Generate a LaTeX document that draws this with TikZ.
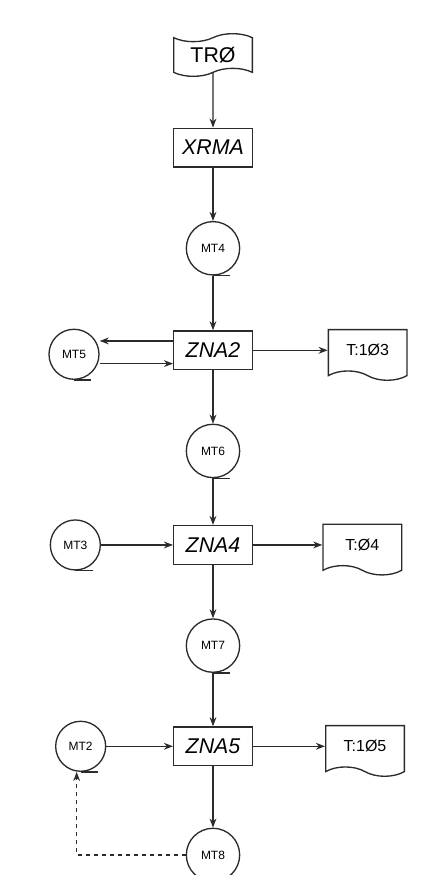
\documentclass[tikz,border=0pt]{standalone}
\usepackage{fontspec}
\setmainfont{Liberation Sans}
\usepackage{tikz}
\usetikzlibrary{arrows.meta,positioning,shapes.symbols}
\definecolor{inkGray}{HTML}{2B2B2B}
\tikzset{
  flow/.style={-{Stealth[length=2.4mm,width=1.8mm]}, line width=1pt, draw=inkGray},
  feedback/.style={flow, dashed},
  program box/.style={draw=inkGray, line width=1pt, minimum width=59pt,
    minimum height=29pt, inner sep=2pt,
    font=\fontsize{16}{18}\selectfont\itshape},
  reel/.style={circle, draw=inkGray, line width=1pt, minimum size=40pt,
    inner sep=0pt, font=\fontsize{9}{10}\selectfont},
  side reel/.style={reel, minimum size=37.5pt},
  reel tail/.style={line width=1pt, draw=inkGray},
  punched tape/.style={tape, draw=inkGray, line width=1pt,
    minimum width=59pt, minimum height=32pt, tape bend height=6pt,
    inner sep=1pt, font=\fontsize{16}{18}\selectfont},
  listing/.style={tape, tape bend top=none, tape bend bottom=out and in,
    draw=inkGray, line width=1pt, minimum width=59pt, minimum height=38pt,
    tape bend height=7pt, inner sep=1pt, font=\fontsize{12}{14}\selectfont}
}
\begin{document}
\begin{tikzpicture}[node distance=40pt]
  \useasboundingbox (0,0) rectangle (324pt,-656.25pt);
  % main column
  \node[punched tape] (tro) at (159.75pt,-41.25pt) {TRØ};
  \node[program box, below=41pt of tro] (xrma) {XRMA};
  \node[reel, below=40pt of xrma] (mt4) {MT4};
  \node[program box, below=41pt of mt4] (zna2) {ZNA2};
  \node[reel, below=40pt of zna2] (mt6) {MT6};
  \node[program box, below=35pt of mt6] (zna4) {ZNA4};
  \node[reel, below=40pt of zna4] (mt7) {MT7};
  \node[program box, below=40pt of mt7] (zna5) {ZNA5};
  \node[reel, below=46pt of zna5] (mt8) {MT8};
  % side reels and listings
  \node[side reel, left=55pt of zna2, yshift=-3pt] (mt5) {MT5};
  \node[listing, right=56pt of zna2] (list3) {T:1Ø3};
  \node[side reel, left=54pt of zna4] (mt3) {MT3};
  \node[listing, right=52pt of zna4] (list4) {T:Ø4};
  \node[side reel, left=50pt of zna5] (mt2) {MT2};
  \node[listing, right=54pt of zna5] (list5) {T:1Ø5};
  \foreach \r in {mt4,mt6,mt7,mt8,mt5,mt3,mt2}
    \draw[reel tail] (\r.south) -- ++(13pt,0);
  % connectors
  \draw[flow] (tro) -- (xrma);
  \draw[flow] (xrma) -- (mt4);
  \draw[flow] (mt4) -- (zna2);
  \draw[flow] (zna2) -- (mt6);
  \draw[flow] (mt6) -- (zna4);
  \draw[flow] (zna4) -- (mt7);
  \draw[flow] (mt7) -- (zna5);
  \draw[flow] (zna5) -- (mt8);
  \draw[flow] ([yshift=7pt]zna2.west) -- ([yshift=10pt]mt5.east);
  \draw[flow] ([yshift=-7pt]mt5.east) -- ([yshift=-10pt]zna2.west);
  \draw[flow] (zna2) -- (list3);
  \draw[flow] (mt3) -- (zna4);
  \draw[flow] (zna4) -- (list4);
  \draw[flow] (mt2) -- (zna5);
  \draw[flow] (zna5) -- (list5);
  \draw[feedback] (mt8.west) -| ([xshift=-3pt]mt2.south);
\end{tikzpicture}
\end{document}
